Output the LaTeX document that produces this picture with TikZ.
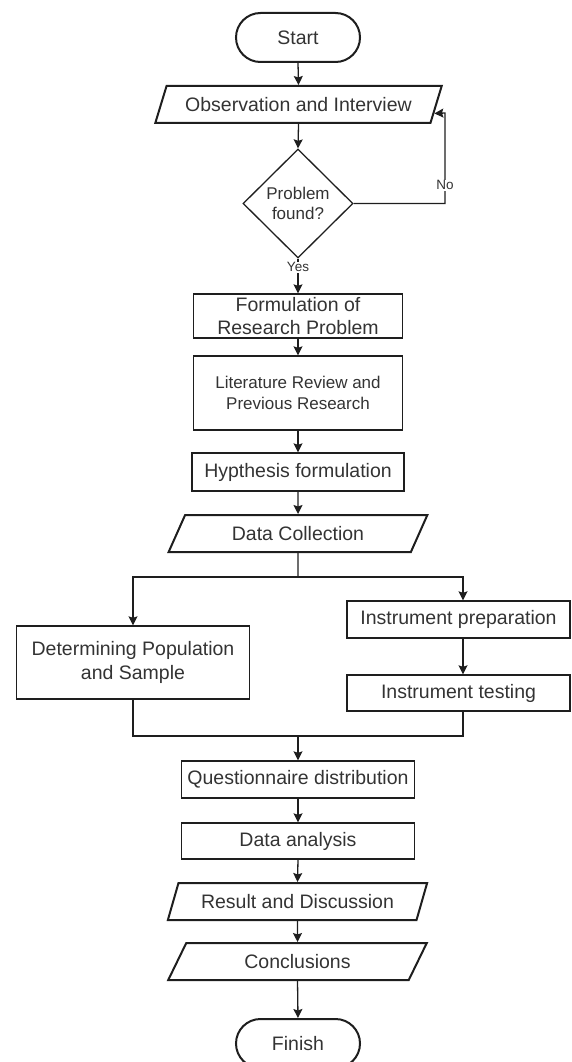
\documentclass[tikz,border=0pt]{standalone}
\usepackage{fontspec}
\setmainfont{Liberation Sans}
\usetikzlibrary{shapes.geometric,arrows.meta,calc}
\definecolor{ink}{HTML}{1E1E1E}
\definecolor{txt}{HTML}{333333}
\begin{document}
\begin{tikzpicture}[x=1pt,y=-1pt,
  big/.style={font=\fontsize{19.5}{23.4}\selectfont},
  small/.style={font=\fontsize{17}{20.4}\selectfont},
  boxnode/.style={draw=ink, line width=1.3pt, rectangle, inner sep=0pt, align=center, text=txt, big},
  para/.style={draw=ink, line width=2pt, trapezium, trapezium left angle=#1, trapezium right angle=180-#1,
     trapezium stretches=true, inner sep=0pt, minimum height=37pt, text=txt, big},
  term/.style={draw=ink, line width=2pt, rectangle, rounded corners=24.5pt, minimum width=124pt,
     minimum height=49pt, inner sep=0pt, text=txt, big},
  conn/.style={draw=ink, line width=1.3pt},
  arr/.style={conn, -{Stealth[length=9pt,width=9pt,inset=1.5pt]}},
  lbl/.style={fill=white, inner sep=1pt, text=txt, font=\fontsize{13.5}{15}\selectfont}
]
\useasboundingbox (0,0) rectangle (571,1062);

\node[term] (start) at (298,37.5) {Start};
\node[para=56, minimum width=287pt] (obs) at (298.5,104.5) {Observation and Interview};
\node[draw=ink, line width=1.3pt, diamond, aspect=1, inner sep=0pt, minimum width=110pt, minimum height=109pt] (dia) at (298,203.5) {};
\node[small, text=txt, align=center] (diat) at (dia) {Problem\\found?};
\node[boxnode, minimum width=209pt, minimum height=44pt] (form) at (298,316) {Formulation of\\Research Problem};
\node[boxnode, small, minimum width=209pt, minimum height=74pt] (lit) at (298,393) {Literature Review and\\Previous Research};
\node[boxnode, minimum width=212pt, minimum height=38pt] (hyp) at (298,472) {Hypthesis formulation};
\node[para=56, minimum width=259pt] (dcol) at (298,533.5) {Data Collection};
\node[boxnode, minimum width=233pt, minimum height=73pt] (det) at (133,662.5) {Determining Population\\and Sample};
\node[boxnode, minimum width=223pt, minimum height=37pt] (prep) at (458.5,619.5) {Instrument preparation};
\node[boxnode, minimum width=223pt, minimum height=36pt] (test) at (458.5,693) {Instrument testing};
\node[boxnode, minimum width=233pt, minimum height=37pt] (quest) at (298,779.5) {Questionnaire distribution};
\node[boxnode, minimum width=233pt, minimum height=36pt] (ana) at (298,841) {Data analysis};
\node[para=59, minimum width=260pt] (res) at (297.5,901.5) {Result and Discussion};
\node[para=59, minimum width=259pt] (conc) at (297.5,961.5) {Conclusions};
\node[term] (fin) at (298,1043.5) {Finish};

\coordinate (loop) at (445,113);
\coordinate (obsin) at ($(obs.bottom right corner)!0.27!(obs.top right corner)$);
\coordinate (split) at (298,577);
\coordinate (rsplit) at (463,577);
\coordinate (join) at (298,736);
\coordinate (rjoin) at (463,736);

\draw[arr] (start.south) -- (obs.north);
\draw[arr] (obs.south) -- (dia.north);
\draw[arr] (dia.east) -| node[lbl, pos=0.6] {No} (loop) -- (obsin);
\draw[arr] (dia.south) -- node[lbl, pos=0.25] {Yes} (form.north);
\draw[arr] (form.south) -- (lit.north);
\draw[arr] (lit.south) -- (hyp.north);
\draw[arr] (hyp.south) -- (dcol.north);
\draw[conn] (dcol.south) -- (split);
\draw[arr] (split) -| (det.north);
\draw[arr] (split) -- (rsplit) -- (rsplit |- prep.north);
\draw[arr] (rsplit |- prep.south) -- (rsplit |- test.north);
\draw[conn] (det.south) |- (join);
\draw[conn] (rsplit |- test.south) -- (rjoin) -- (join);
\draw[arr] (join) -- (quest.north);
\draw[arr] (quest.south) -- (ana.north);
\draw[arr] (ana.south) -- (res.north);
\draw[arr] (res.south) -- (conc.north);
\draw[arr] (conc.south) -- (fin.north);
\end{tikzpicture}
\end{document}
